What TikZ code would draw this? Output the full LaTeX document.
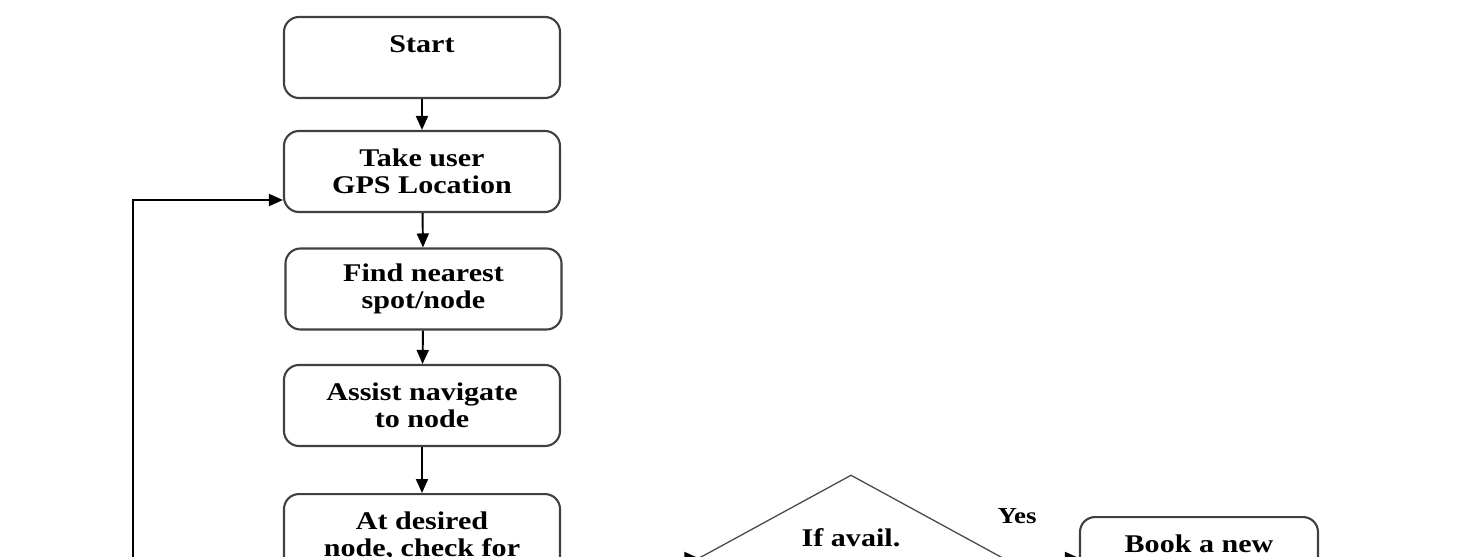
\documentclass[tikz,border=0pt]{standalone}
\usepackage{fontspec}
\setmainfont{Liberation Serif}[FakeStretch=1.18]
\usetikzlibrary{shapes.geometric,arrows.meta}

\tikzset{
  stepbox/.style={draw=black!75, line width=1.2pt, rounded corners=0.3cm,
    minimum width=5.52cm, minimum height=1.62cm, align=center,
    font=\bfseries\fontsize{14.5}{15.3}\selectfont},
  openbox/.style={stepbox, anchor=north, minimum height=0cm, inner ysep=0.36cm, text depth=1.6cm},
  decision/.style={draw=black!70, line width=0.75pt, diamond, aspect=1.8, inner sep=0pt,
    minimum width=6.08cm, minimum height=3.32cm, align=center,
    font=\bfseries\fontsize{14.5}{15.3}\selectfont},
  arr/.style={-{Triangle[length=0.28cm,width=0.24cm]}, line width=1.1pt}
}

\begin{document}
\begin{tikzpicture}
                    \useasboundingbox (0,0) rectangle (29.4,-11.14);
                    \clip (0,0) rectangle (29.4,-11.14);

                    % main column
                    \node[stepbox] (start) at (8.44,-1.15) {Start\\ \mbox{}};
                    \node[stepbox] (take) at (8.44,-3.43) {Take user\\GPS Location};
                    \node[stepbox] (find) at (8.47,-5.78) {Find nearest\\spot/node};
                    \node[stepbox] (assist) at (8.44,-8.11) {Assist navigate\\to node};
                    \node[openbox] (check) at (8.44,-9.86) {At desired\\node, check for};

                    % decision and booking
                    \node[decision] (avail) at (17.02,-11.16) {If avail.\\[0.3cm] \mbox{}};
                    \node[openbox, minimum width=4.76cm] (book) at (23.98,-10.32) {Book a new};
                    \node[font=\bfseries\fontsize{13}{14}\selectfont] (yes) at (20.34,-10.32) {Yes};

                    \draw[arr] (start) -- (take);
                    \draw[arr] (take) -- (find);
                    \draw[arr] (find) -- (assist);
                    \draw[arr] (assist) -- (check);
                    \draw[arr] (check.east |- avail.west) -- (avail.west);
                    \draw[arr] (avail.east) -- (book.west |- avail.east);

                    % loop back to the location step
                    \coordinate (back) at (2.66,-12.4);
                    \draw[arr] (back) |- ([yshift=-0.57cm]take.west);
                \end{tikzpicture}
\end{document}
